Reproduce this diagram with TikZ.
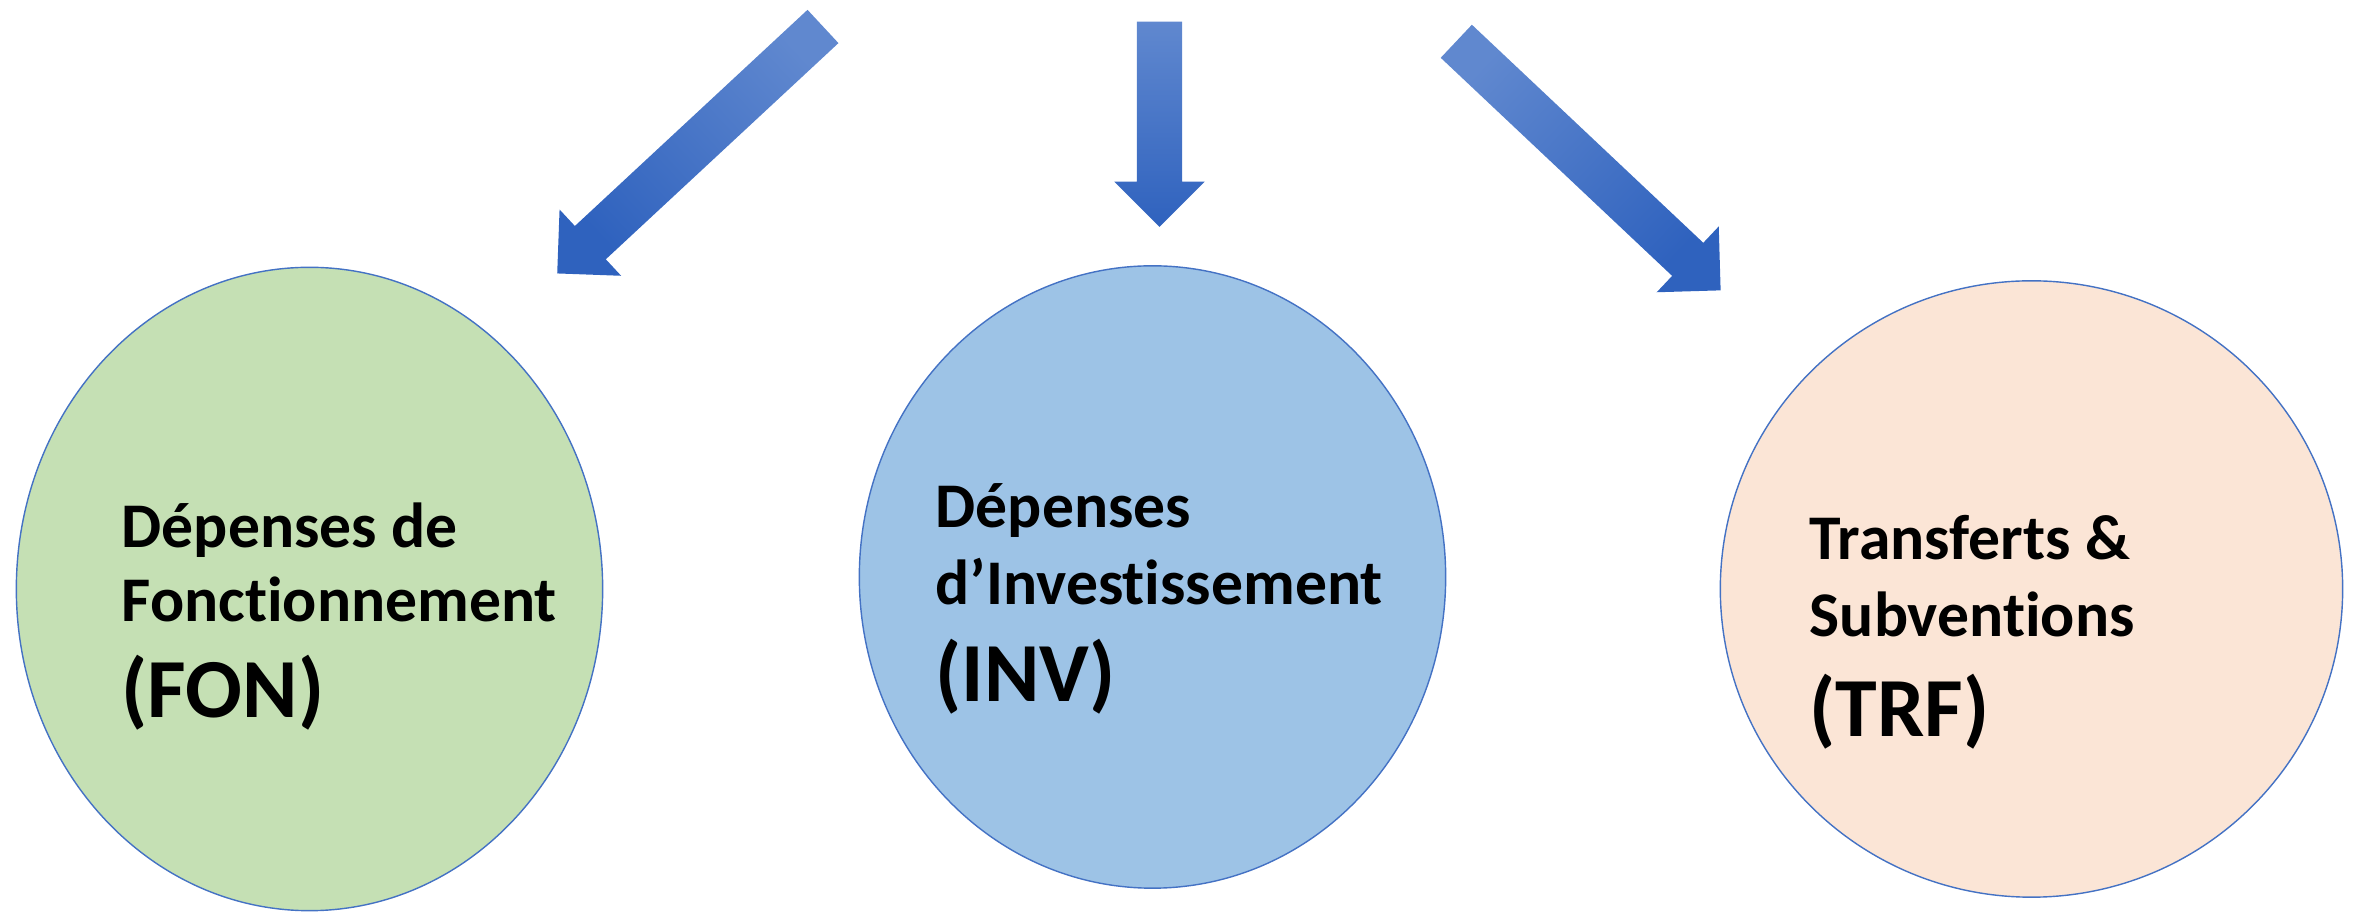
\documentclass[tikz,border=0pt]{standalone}
\usepackage{fontspec}
\setmainfont{Carlito}[Ligatures=NoCommon]
\usetikzlibrary{shapes.geometric,shapes.arrows,positioning}
\definecolor{fonfill}{HTML}{C5E0B4}
\definecolor{invfill}{HTML}{9DC3E6}
\definecolor{trffill}{HTML}{FBE5D6}
\definecolor{rim}{HTML}{4472C4}
\definecolor{arrowlight}{HTML}{6088CF}
\definecolor{arrowdark}{HTML}{2F62BE}

\begin{document}
\begin{tikzpicture}[x=0.01cm,y=-0.01cm,
   budget/.style={ellipse,draw=rim,line width=0.4pt,inner sep=0pt},
   flow/.style={single arrow,single arrow tip angle=90,single arrow head extend=0.225cm,
     anchor=tail,inner xsep=0pt,inner ysep=0.22cm,top color=arrowlight,bottom color=arrowdark},
   lbl/.style={anchor=base west,inner sep=0pt,font=\bfseries\fontsize{#1}{#1}\selectfont}]
   \useasboundingbox (0,0) rectangle (2356,916);
   % the three kinds of spending
   \node[budget,fill=fonfill,minimum width=5.86cm,minimum height=6.43cm] (fon) at (309.5,589) {};
   \node[budget,fill=invfill,minimum width=5.86cm,minimum height=6.22cm] (inv) at (1152.5,577) {};
   \node[budget,fill=trffill,minimum width=6.22cm,minimum height=6.16cm] (trf) at (2031.5,589) {};
   % labels
   \node[lbl=18.1] (fon1) at (121,548) {Dépenses de};
   \node[lbl=18.1] (fon2) at (121,622) {Fonctionnement};
   \node[lbl=23.9] (fon3) at (121,718) {(FON)};
   \node[lbl=18.1] (inv1) at (935,528) {Dépenses};
   \node[lbl=18.1] (inv2) at (935,605) {d’Investissement};
   \node[lbl=23.9] (inv3) at (935,702) {(INV)};
   \node[lbl=18.1] (trf1) at (1809,560) {Transferts \&};
   \node[lbl=18.1] (trf2) at (1809,637) {Subventions};
   \node[lbl=23.9] (trf3) at (1809,737) {(TRF)};
   % block arrows, from their tails
   \coordinate (srcFON) at (823.5,26);
   \coordinate (srcINV) at (1159.5,21);
   \coordinate (srcTRF) at (1455.8,40.8);
   \node[flow,minimum height=3.626cm,rotate=222.9,shading angle=312.9] (toFON) at (srcFON) {};
   \node[flow,minimum height=2.05cm,rotate=-90] (toINV) at (srcINV) {};
   \node[flow,minimum height=3.63cm,rotate=-43.3,shading angle=46.7] (toTRF) at (srcTRF) {};
\end{tikzpicture}
\end{document}
